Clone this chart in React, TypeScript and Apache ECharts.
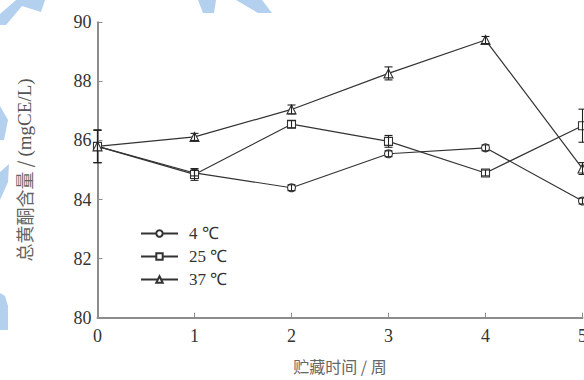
import React, { useEffect, useRef } from "react";
import * as echarts from "echarts";

const weeks = [0, 1, 2, 3, 4, 5];
const seriesNames = ["4 ℃", "25 ℃", "37 ℃"];
const values4 = [85.8, 84.9, 84.4, 85.55, 85.75, 83.95];
const values25 = [85.8, 84.85, 86.55, 85.97, 84.9, 86.5];
const values37 = [85.8, 86.12, 87.05, 88.27, 89.4, 85.05];
const err4 = [0.55, 0.1, 0.1, 0.1, 0.1, 0.1];
const err25 = [0.55, 0.2, 0.12, 0.2, 0.1, 0.56];
const err37 = [0.55, 0.12, 0.15, 0.22, 0.12, 0.2];
const symbols = ["circle", "rect", "triangle"];
const xTitle = "贮藏时间 / 周";
const yTitleCn = "总黄酮含量 / ";
const yTitleUnit = "(mgCE/L)";

const allValues = [values4, values25, values37];
const allErrors = [err4, err25, err37];

const INK = "#333";
const AXIS = "#8c8c8c";
const WATER = "#b3d0ef";

export default function App() {
  const ref = useRef<HTMLDivElement>(null);
  useEffect(() => {
    if (!ref.current) return;
    const chart = echarts.init(ref.current, null, { renderer: "svg" });

    const lineSeries = seriesNames.map((name, i) => ({
      name,
      type: "line",
      data: weeks.map((w, j) => [w, allValues[i][j]]),
      symbol: symbols[i],
      symbolSize: i === 2 ? 9 : 8,
      showSymbol: true,
      lineStyle: { color: INK, width: 1.2 },
      itemStyle: { color: "#fff", borderColor: INK, borderWidth: 1.1 },
      z: 3,
    }));

    const errSeries = seriesNames.map((name, i) => ({
      name: name + " err",
      type: "custom",
      data: weeks.map((w, j) => [w, allValues[i][j] - allErrors[i][j], allValues[i][j] + allErrors[i][j]]),
      encode: { x: 0, y: [1, 2] },
      z: 4,
      renderItem: (_p: any, api: any) => {
        const x = api.value(0);
        const lo = api.coord([x, api.value(1)]);
        const hi = api.coord([x, api.value(2)]);
        const cap = 4;
        const st = { stroke: "#222", lineWidth: 1.1 };
        return {
          type: "group",
          children: [
            { type: "line", shape: { x1: lo[0], y1: lo[1], x2: hi[0], y2: hi[1] }, style: st },
            { type: "line", shape: { x1: lo[0] - cap, y1: lo[1], x2: lo[0] + cap, y2: lo[1] }, style: st },
            { type: "line", shape: { x1: hi[0] - cap, y1: hi[1], x2: hi[0] + cap, y2: hi[1] }, style: st },
          ],
        };
      },
    }));

    const poly = (points: number[][]) => ({
      type: "polygon",
      shape: { points },
      style: { fill: WATER },
      silent: true,
      z: -10,
    });

    chart.setOption({
      animation: false,
      backgroundColor: "#fff",
      graphic: [
        poly([[0, 14], [16, 0], [45, 0], [41, 12], [22, 6], [6, 25], [0, 25]]),
        poly([[198, 0], [216, 0], [214, 13], [203, 13]]),
        poly([[236, 0], [262, 0], [272, 13], [258, 13]]),
        poly([[0, 106], [8, 120], [4, 140], [0, 140]]),
        poly([[0, 172], [9, 164], [8, 182], [0, 200]]),
        poly([[0, 293], [5, 296], [8, 306], [8, 330], [0, 330]]),
      ],
      grid: { left: 97.5, right: 1.5, top: 22.3, bottom: 62.3, outerBoundsMode: "none", containLabel: false },
      legend: {
        data: seriesNames,
        orient: "vertical",
        left: 135,
        top: 220,
        itemWidth: 37,
        itemHeight: 8,
        itemGap: 6,
        textStyle: {
          fontFamily: "Liberation Serif",
          fontSize: 17,
          color: INK,
          lineHeight: 17,
          padding: [0, 0, 0, 6],
        },
      },
      xAxis: {
        type: "value",
        min: 0,
        max: 5,
        interval: 1,
        name: xTitle,
        nameLocation: "middle",
        nameGap: 40,
        nameTextStyle: { fontFamily: "Noto Sans CJK SC", fontSize: 16, lineHeight: 16, color: "#666" },
        axisLine: { lineStyle: { color: AXIS, width: 2 } },
        axisTick: { inside: true, length: 5, lineStyle: { color: AXIS, width: 1 } },
        axisLabel: { fontFamily: "Liberation Serif", fontSize: 18, color: INK, margin: 9 },
        splitLine: { show: false },
      },
      yAxis: {
        type: "value",
        min: 80,
        max: 90,
        interval: 2,
        name: "{a|" + yTitleCn + "}{b|" + yTitleUnit + "}",
        nameLocation: "middle",
        nameGap: 64,
        nameTextStyle: {
          rich: {
            a: { fontFamily: "Noto Sans CJK SC", fontSize: 18, color: "#666" },
            b: { fontFamily: "Liberation Serif", fontSize: 19, color: "#555" },
          },
        },
        axisLine: { show: true, lineStyle: { color: AXIS, width: 2 } },
        axisTick: { show: true, inside: true, length: 5, lineStyle: { color: AXIS, width: 1 } },
        axisLabel: { fontFamily: "Liberation Serif", fontSize: 18, color: INK, margin: 6 },
        splitLine: { show: false },
      },
      series: [...lineSeries, ...errSeries],
    });
    return () => chart.dispose();
  }, []);
  return (
    <div
      ref={ref}
      style={{ position: "fixed", left: 0, top: 0, width: 584, height: 380, background: "#fff" }}
    />
  );
}
